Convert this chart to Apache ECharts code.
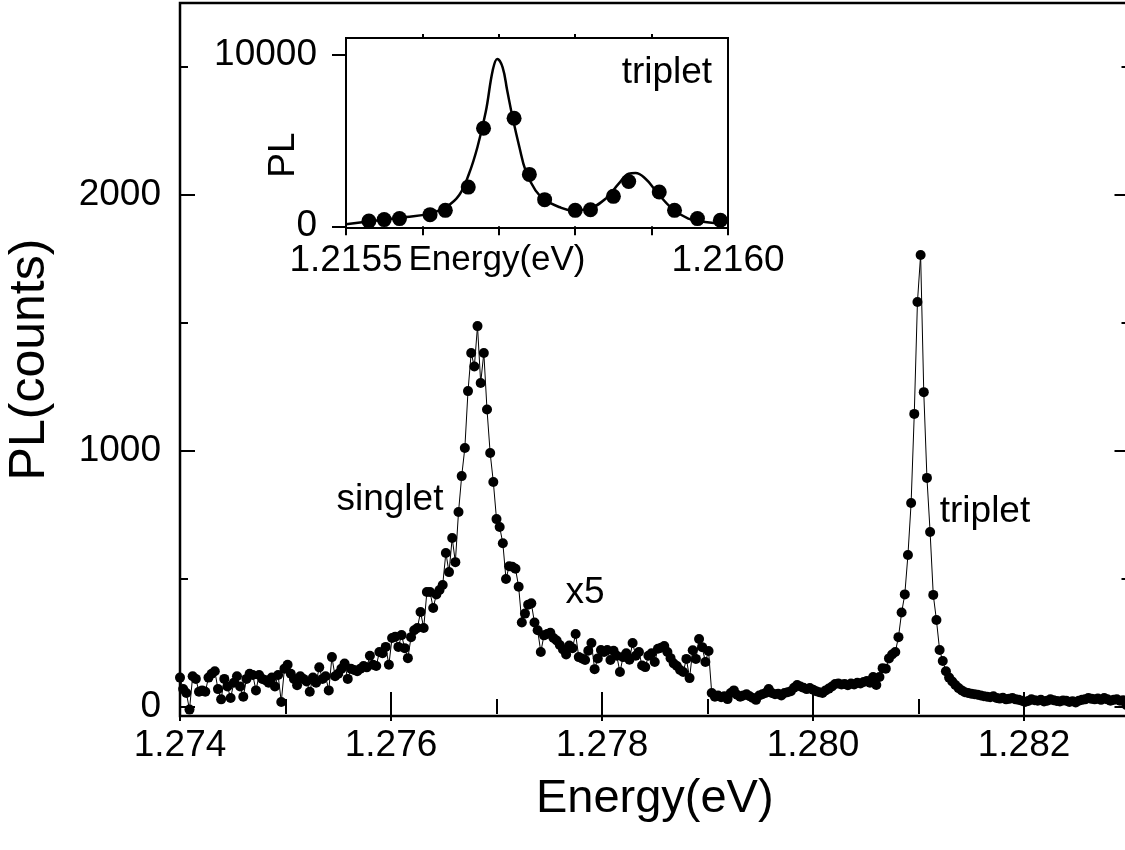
<!DOCTYPE html>
<html>
<head>
<meta charset="utf-8">
<script src="https://cdn.jsdelivr.net/npm/echarts@6/dist/echarts.min.js"></script>
<style>
  html, body { margin: 0; padding: 0; background: #fff; }
  #chart { width: 1125px; height: 850px; }
</style>
</head>
<body>
<div id="chart"></div>
<script>
// main spectrum, energy (eV) and PL counts
const energy = [
  1.27400,1.27403,1.27406,1.27409,1.27412,1.27415,1.27418,1.27421,1.27424,1.27427,
  1.27430,1.27433,1.27436,1.27439,1.27442,1.27445,1.27448,1.27451,1.27454,1.27457,
  1.27460,1.27463,1.27466,1.27469,1.27472,1.27475,1.27478,1.27481,1.27484,1.27487,
  1.27490,1.27493,1.27496,1.27499,1.27502,1.27505,1.27508,1.27511,1.27514,1.27517,
  1.27520,1.27523,1.27526,1.27529,1.27532,1.27535,1.27538,1.27541,1.27544,1.27547,
  1.27550,1.27553,1.27556,1.27559,1.27562,1.27565,1.27568,1.27571,1.27574,1.27577,
  1.27580,1.27583,1.27586,1.27589,1.27592,1.27595,1.27598,1.27601,1.27604,1.27607,
  1.27610,1.27613,1.27616,1.27619,1.27622,1.27625,1.27628,1.27631,1.27634,1.27637,
  1.27640,1.27643,1.27646,1.27649,1.27652,1.27655,1.27658,1.27661,1.27664,1.27667,
  1.27670,1.27673,1.27676,1.27679,1.27682,1.27685,1.27688,1.27691,1.27694,1.27697,
  1.27700,1.27703,1.27706,1.27709,1.27712,1.27715,1.27718,1.27721,1.27724,1.27727,
  1.27730,1.27733,1.27736,1.27739,1.27742,1.27745,1.27748,1.27751,1.27754,1.27757,
  1.27760,1.27763,1.27766,1.27769,1.27772,1.27775,1.27778,1.27781,1.27784,1.27787,
  1.27790,1.27793,1.27796,1.27799,1.27802,1.27805,1.27808,1.27811,1.27814,1.27817,
  1.27820,1.27823,1.27826,1.27829,1.27832,1.27835,1.27838,1.27841,1.27844,1.27847,
  1.27850,1.27853,1.27856,1.27859,1.27862,1.27865,1.27868,1.27871,1.27874,1.27877,
  1.27880,1.27883,1.27886,1.27889,1.27892,1.27895,1.27898,1.27901,1.27904,1.27907,
  1.27910,1.27913,1.27916,1.27919,1.27922,1.27925,1.27928,1.27931,1.27934,1.27937,
  1.27940,1.27943,1.27946,1.27949,1.27952,1.27955,1.27958,1.27961,1.27964,1.27967,
  1.27970,1.27973,1.27976,1.27979,1.27982,1.27985,1.27988,1.27991,1.27994,1.27997,
  1.28000,1.28003,1.28006,1.28009,1.28012,1.28015,1.28018,1.28021,1.28024,1.28027,
  1.28030,1.28033,1.28036,1.28039,1.28042,1.28045,1.28048,1.28051,1.28054,1.28057,
  1.28060,1.28063,1.28066,1.28069,1.28072,1.28075,1.28078,1.28081,1.28084,1.28087,
  1.28090,1.28093,1.28096,1.28099,1.28102,1.28105,1.28108,1.28111,1.28114,1.28117,
  1.28120,1.28123,1.28126,1.28129,1.28132,1.28135,1.28138,1.28141,1.28144,1.28147,
  1.28150,1.28153,1.28156,1.28159,1.28162,1.28165,1.28168,1.28171,1.28174,1.28177,
  1.28180,1.28183,1.28186,1.28189,1.28192,1.28195,1.28198,1.28201,1.28204,1.28207,
  1.28210,1.28213,1.28216,1.28219,1.28222,1.28225,1.28228,1.28231,1.28234,1.28237,
  1.28240,1.28243,1.28246,1.28249,1.28252,1.28255,1.28258,1.28261,1.28264,1.28267,
  1.28270,1.28273,1.28276,1.28279,1.28282,1.28285,1.28288,1.28291,1.28294,1.28297,
  1.28300
];
const counts = [
  115, 70, 55, -10, 120, 110, 60, 65, 60, 115,
  130, 140, 70, 30, 110, 80, 35, 95, 120, 80,
  40, 110, 130, 125, 65, 125, 110, 105, 95, 115,
  80, 125, 20, 150, 165, 130, 110, 85, 120, 110,
  100, 60, 115, 95, 155, 110, 120, 65, 195, 120,
  130, 150, 170, 110, 150, 145, 140, 150, 160, 155,
  200, 165, 160, 215, 210, 235, 165, 270, 275, 235,
  281, 230, 191, 273, 300, 309, 371, 309, 449, 449,
  387, 440, 457, 477, 602, 527, 660, 566, 762, 902,
  1012, 1234, 1383, 1330, 1488, 1266, 1383, 1162, 992, 879,
  734, 703, 640, 500, 550, 548, 540, 470, 330, 365,
  400, 405, 330, 300, 215, 280, 285, 290, 270, 260,
  242, 225, 205, 240, 230, 285, 195, 190, 184, 220,
  250, 148, 190, 223, 215, 223, 184, 220, 200, 137,
  195, 210, 185, 250, 200, 215, 162, 156, 200, 210,
  176, 228, 232, 238, 215, 191, 170, 160, 145, 137,
  188, 113, 222, 188, 266, 234, 176, 219, 55, 40,
  45, 38, 42, 31, 55, 65, 48, 40, 45, 50,
  42, 35, 28, 45, 50, 55, 70, 55, 50, 52,
  45, 55, 58, 62, 75, 86, 80, 75, 70, 74,
  68, 62, 58, 55, 65, 72, 80, 90, 92, 88,
  90, 85, 92, 88, 95, 92, 98, 102, 95, 117,
  86, 117, 152, 150, 190, 205, 215, 273, 369, 440,
  594, 797, 1145, 1582, 1766, 1230, 895, 684, 438, 340,
  223, 180, 140, 115, 100, 86, 74, 65, 58, 55,
  52, 50, 48, 45, 42, 40, 38, 42, 35, 33,
  36, 30, 32, 35, 30, 28, 25, 20, 24, 30,
  27, 25, 28, 22, 25, 30, 27, 24, 22, 26,
  25, 20, 23, 18, 25, 28, 30, 35, 32, 30,
  33, 28, 35, 30, 25, 28, 30, 25, 27, 8,
  15
];

// inset: measured points and the fitted curve
const insetEnergy = [1.21553,1.21555,1.21557,1.21561,1.21563,1.21566,1.21568,1.21572,1.21574,
                     1.21576,1.21580,1.21582,1.21585,1.21587,1.21591,1.21593,1.21596,1.21599];
const insetCounts = [310,390,450,680,930,2290,5730,6315,3030,1555,930,970,1750,2620,2000,930,450,350];
const fitEnergy = [1.215500,1.215535,1.215579,1.215609,1.215631,1.215648,1.215661,1.215672,1.215683,
                   1.215692,1.215698,1.215705,1.215711,1.215718,1.215727,1.215735,1.215748,1.215761,
                   1.215779,1.215796,1.215818,1.215840,1.215857,1.215870,1.215879,1.215892,1.215905,
                   1.215927,1.215948,1.215970,1.215996];
const fitCounts = [115,310,540,740,1125,1810,3070,4620,6700,9100,9780,9290,7930,6370,4620,3265,2100,
                   1516,1125,933,1030,1615,2490,3070,3110,2780,2100,1030,450,250,157];

// tick labels
const xMajor = [1.274, 1.276, 1.278, 1.280, 1.282];
const xMinor = [1.275, 1.277, 1.279, 1.281, 1.283];
const yMajor = [0, 1000, 2000];
const yMinor = [500, 1500, 2500];
const insetXTicks = [1.2155, 1.2156, 1.2157, 1.2158, 1.2159, 1.2160];
const insetXLabels = [1.2155, 1.2160];
const insetYTicks = [0, 10000];

// text notes: [energy, counts, text]
const mainNotes = [[1.27599, 809, 'singlet'], [1.28163, 762, 'triplet'], [1.27784, 445, 'x5']];
const insetNotes = [[1.21592, 8980, 'triplet']];

const FONT = '"Liberation Sans", Arial, sans-serif';
const BLACK = '#000';

function tickAxis(opt) {
    // one axis that only draws a set of ticks
    return Object.assign({
        type: 'value',
        axisLine: { show: false },
        splitLine: { show: false },
        axisLabel: { show: false },
        axisTick: {
            show: true,
            inside: true,
            length: opt.len,
            customValues: opt.ticks,
            lineStyle: { color: BLACK, width: 2 }
        }
    }, opt.extra);
}

const noteLabel = {
    show: true, position: 'inside', formatter: p => p.data[2],
    fontSize: 37, color: BLACK, fontFamily: FONT, opacity: 1
};

const chart = echarts.init(document.getElementById('chart'));
const option = {
    animation: false,
    backgroundColor: '#fff',
    textStyle: { fontFamily: FONT, color: BLACK },
    grid: [
        { left: 180, top: 3, right: -4.5, bottom: 134, show: true, borderColor: BLACK, borderWidth: 2.5, outerBoundsMode: 'none' },
        { left: 346, top: 38, width: 382, height: 190, show: true, borderColor: BLACK, borderWidth: 2,
          backgroundColor: '#fff', outerBoundsMode: 'none' }
    ],
    xAxis: [
        tickAxis({ len: 15, ticks: xMajor, extra: {
            gridIndex: 0, position: 'bottom', min: 1.274, max: 1.283,
            axisLabel: { show: true, customValues: xMajor, formatter: v => v.toFixed(3),
                         fontSize: 37, color: BLACK, margin: 11, fontFamily: FONT },
            name: 'Energy(eV)', nameLocation: 'middle', nameGap: 60, nameMoveOverlap: false,
            nameTextStyle: { fontSize: 47, color: BLACK, fontFamily: FONT }
        }}),
        tickAxis({ len: 8, ticks: xMinor, extra: { gridIndex: 0, position: 'bottom', min: 1.274, max: 1.283 } }),
        tickAxis({ len: 14, ticks: xMajor, extra: { gridIndex: 0, position: 'top', min: 1.274, max: 1.283 } }),
        tickAxis({ len: 7, ticks: xMinor, extra: { gridIndex: 0, position: 'top', min: 1.274, max: 1.283 } }),
        {
            type: 'value', gridIndex: 1, position: 'bottom', min: 1.2155, max: 1.2160,
            axisLine: { show: false }, splitLine: { show: false },
            axisTick: { show: true, inside: false, length: 9, customValues: insetXTicks,
                        lineStyle: { color: BLACK, width: 2 } },
            axisLabel: { customValues: insetXLabels, formatter: v => v.toFixed(4),
                         fontSize: 37, color: BLACK, margin: 14, fontFamily: FONT },
            name: 'Energy(eV)', nameLocation: 'middle', nameGap: 15, nameMoveOverlap: false,
            nameTextStyle: { fontSize: 35, color: BLACK, fontFamily: FONT, padding: [0, 80, 0, 0] }
        },
        {
            type: 'value', gridIndex: 1, position: 'top', min: 1.2155, max: 1.2160,
            axisLine: { show: false }, splitLine: { show: false }, axisLabel: { show: false },
            axisTick: { show: true, inside: false, length: 4, customValues: insetXTicks.slice(1, 5),
                        lineStyle: { color: BLACK, width: 2 } }
        }
    ],
    yAxis: [
        tickAxis({ len: 15, ticks: yMajor, extra: {
            gridIndex: 0, position: 'left', min: -35, max: 2750,
            axisLabel: { show: true, customValues: yMajor, formatter: v => String(v),
                         fontSize: 37, color: BLACK, margin: 19, fontFamily: FONT },
            name: 'PL(counts)', nameLocation: 'middle', nameGap: 125, nameMoveOverlap: false,
            nameTextStyle: { fontSize: 50, color: BLACK, fontFamily: FONT }
        }}),
        tickAxis({ len: 8, ticks: yMinor, extra: { gridIndex: 0, position: 'left', min: -35, max: 2750 } }),
        tickAxis({ len: 15, ticks: yMajor, extra: { gridIndex: 0, position: 'right', min: -35, max: 2750 } }),
        tickAxis({ len: 8, ticks: yMinor, extra: { gridIndex: 0, position: 'right', min: -35, max: 2750 } }),
        {
            type: 'value', gridIndex: 1, position: 'left', min: -100, max: 11000,
            axisLine: { show: false }, splitLine: { show: false },
            axisTick: { show: true, inside: false, length: 14, customValues: insetYTicks,
                        lineStyle: { color: BLACK, width: 2 } },
            axisLabel: { customValues: insetYTicks, formatter: v => String(v),
                         fontSize: 37, color: BLACK, margin: 29, fontFamily: FONT },
            name: 'PL', nameLocation: 'middle', nameGap: 44, nameMoveOverlap: false,
            nameTextStyle: { fontSize: 37, color: BLACK, fontFamily: FONT, padding: [0, 44, 0, 0] }
        }
    ],
    series: [
        {
            type: 'line', xAxisIndex: 0, yAxisIndex: 0,
            data: energy.map((e, i) => [e, counts[i]]),
            symbol: 'circle', symbolSize: 10, showAllSymbol: true,
            lineStyle: { color: BLACK, width: 1 },
            itemStyle: { color: BLACK, opacity: 1 },
            emphasis: { disabled: true }
        },
        {
            type: 'line', xAxisIndex: 4, yAxisIndex: 4,
            data: fitEnergy.map((e, i) => [e, fitCounts[i]]),
            showSymbol: false, smooth: 0.4,
            lineStyle: { color: BLACK, width: 2.5 },
            emphasis: { disabled: true }
        },
        {
            type: 'scatter', xAxisIndex: 4, yAxisIndex: 4,
            data: insetEnergy.map((e, i) => [e, insetCounts[i]]),
            symbolSize: 15, itemStyle: { color: BLACK, opacity: 1 },
            emphasis: { disabled: true }
        },
        {
            type: 'scatter', xAxisIndex: 0, yAxisIndex: 0, data: mainNotes, symbolSize: 0,
            itemStyle: { opacity: 1 }, label: noteLabel, emphasis: { disabled: true }
        },
        {
            type: 'scatter', xAxisIndex: 4, yAxisIndex: 4, data: insetNotes, symbolSize: 0,
            itemStyle: { opacity: 1 }, label: noteLabel, emphasis: { disabled: true }
        }
    ]
};
chart.setOption(option);
</script>
</body>
</html>
